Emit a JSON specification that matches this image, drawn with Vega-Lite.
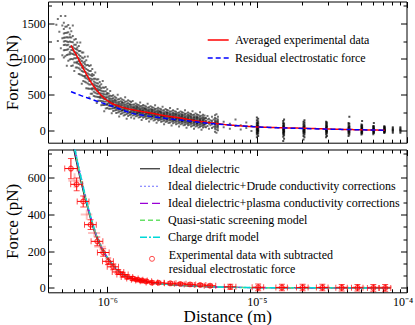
{
"$schema": "https://vega.github.io/schema/vega-lite/v6.json",
"padding": {"left": 2, "top": 0.5, "right": 0, "bottom": 0},
"spacing": 4,
"datasets": {
"cloud": [
{"x":4.571e-7,"y":[1480]},{"x":4.677e-7,"y":[1250,1560]},{"x":4.786e-7,"y":[1380]},{"x":4.898e-7,"y":[1150,1600]},{"x":5.012e-7,"y":[1050,1290,1470]},
{"x":5.129e-7,"y":[1020,1120,1195,1245,1295,1358,1420,1508]},
{"x":5.248e-7,"y":[1037,1125,1200,1250,1300,1363,1450,1600]},
{"x":5.37e-7,"y":[905,1055,1130,1192,1243,1305,1368,1455]},
{"x":5.495e-7,"y":[975,1062,1137,1200,1238,1300,1375,1475]},
{"x":5.623e-7,"y":[992,1067,1092,1167,1243,1305,1343,1430]},
{"x":5.754e-7,"y":[900,1000,1075,1125,1175,1238,1300,1388]},
{"x":5.888e-7,"y":[907,995,1070,1120,1170,1233,1320,1470]},
{"x":6.026e-7,"y":[830,950,1010,1060,1100,1150,1200,1270]},
{"x":6.166e-7,"y":[880,950,1010,1060,1090,1140,1200,1280]},
{"x":6.31e-7,"y":[880,940,960,1020,1080,1130,1160,1230]},
{"x":6.457e-7,"y":[790,870,930,970,1010,1060,1110,1180]},
{"x":6.607e-7,"y":[780,850,910,950,990,1040,1110,1230]},
{"x":6.761e-7,"y":[650,770,830,880,920,970,1020,1090]},
{"x":6.918e-7,"y":[690,760,820,870,900,950,1010,1090]},
{"x":7.079e-7,"y":[680,740,760,820,880,930,960,1030]},
{"x":7.244e-7,"y":[590,670,730,770,810,860,910,980]},
{"x":7.413e-7,"y":[585,655,715,755,795,845,915,1035]},
{"x":7.586e-7,"y":[460,580,640,690,730,780,830,900]},
{"x":7.762e-7,"y":[510,580,640,690,720,770,830,910]},
{"x":7.943e-7,"y":[510,570,590,650,710,760,790,860]},
{"x":8.128e-7,"y":[480,540,585,615,645,683,720,773]},
{"x":8.318e-7,"y":[472,525,570,600,630,668,720,810]},
{"x":8.511e-7,"y":[380,470,515,552,583,620,658,710]},
{"x":8.71e-7,"y":[415,467,512,550,573,610,655,715]},
{"x":8.913e-7,"y":[412,457,472,517,563,600,623,675]},
{"x":9.12e-7,"y":[350,410,455,485,515,553,590,643]},
{"x":9.333e-7,"y":[352,405,450,480,510,548,600,690]},
{"x":9.55e-7,"y":[265,355,400,437,468,505,543,595]},
{"x":9.772e-7,"y":[305,357,402,440,463,500,545,605]},
{"x":1e-6,"y":[312,357,372,417,463,500,523,575]},
{"x":1.023e-6,"y":[300,344,377,399,421,449,476,515]},
{"x":1.047e-6,"y":[301,340,373,395,417,445,483,549]},
{"x":1.072e-6,"y":[239,305,338,365,388,415,443,481]},
{"x":1.096e-6,"y":[271,309,342,370,387,414,447,491]},
{"x":1.122e-6,"y":[277,310,321,354,388,415,432,470]},
{"x":1.148e-6,"y":[240,284,317,339,361,389,416,455]},
{"x":1.175e-6,"y":[248,287,320,342,364,392,430,496]},
{"x":1.202e-6,"y":[192,258,291,318,341,368,396,434]},
{"x":1.23e-6,"y":[229,267,300,328,345,372,405,449]},
{"x":1.259e-6,"y":[239,272,283,316,350,377,394,432]},
{"x":1.288e-6,"y":[206,250,283,305,327,355,382,421]},
{"x":1.318e-6,"y":[216,255,288,310,332,360,398,464]},
{"x":1.349e-6,"y":[162,228,261,288,311,338,366,404]},
{"x":1.38e-6,"y":[201,239,272,300,317,344,377,421]},
{"x":1.413e-6,"y":[212,245,256,289,323,350,367,405]},
{"x":1.445e-6,"y":[180,224,257,279,301,329,356,395]},
{"x":1.479e-6,"y":[208,240,267,285,303,326,357,411]},
{"x":1.514e-6,"y":[163,217,244,266,285,307,330,361]},
{"x":1.549e-6,"y":[195,226,253,276,290,312,339,375]},
{"x":1.585e-6,"y":[204,231,240,267,295,317,331,362]},
{"x":1.622e-6,"y":[178,214,241,259,277,300,322,354]},
{"x":1.66e-6,"y":[187,219,246,264,282,305,336,390]},
{"x":1.698e-6,"y":[143,197,224,246,265,287,310,341]},
{"x":1.738e-6,"y":[175,206,233,256,270,292,319,355]},
{"x":1.778e-6,"y":[184,211,220,247,275,297,311,342]},
{"x":1.82e-6,"y":[158,194,221,239,257,280,302,334]},
{"x":1.862e-6,"y":[167,199,226,244,262,285,316,370]},
{"x":1.905e-6,"y":[123,177,204,226,245,267,290,321]},
{"x":1.95e-6,"y":[155,186,213,236,250,272,299,335]},
{"x":1.995e-6,"y":[164,191,200,227,255,277,291,322]},
{"x":2.042e-6,"y":[138,174,201,219,237,260,282,314]},
{"x":2.089e-6,"y":[147,179,206,224,242,265,296,350]},
{"x":2.138e-6,"y":[103,157,184,206,225,247,270,301]},
{"x":2.188e-6,"y":[135,166,193,216,230,252,279,315]},
{"x":2.239e-6,"y":[144,171,180,207,235,257,271,302]},
{"x":2.291e-6,"y":[118,154,181,199,217,240,262,294]},
{"x":2.344e-6,"y":[127,159,186,204,222,245,276,330]},
{"x":2.399e-6,"y":[83,137,164,186,205,227,250,281]},
{"x":2.455e-6,"y":[116,147,174,197,211,233,260,296]},
{"x":2.512e-6,"y":[126,153,162,189,217,239,253,284]},
{"x":2.57e-6,"y":[100,136,163,181,199,222,244,276]},
{"x":2.63e-6,"y":[110,142,169,187,205,228,259,313]},
{"x":2.692e-6,"y":[67,121,148,170,189,211,234,265]},
{"x":2.754e-6,"y":[99,130,157,180,194,216,243,279]},
{"x":2.818e-6,"y":[109,136,145,172,200,222,236,267]},
{"x":2.884e-6,"y":[84,120,147,165,183,206,228,260]},
{"x":2.951e-6,"y":[94,126,153,171,189,212,243,297]},
{"x":3.02e-6,"y":[51,105,132,154,173,195,218,249]},
{"x":3.09e-6,"y":[84,115,142,165,179,201,228,264]},
{"x":3.162e-6,"y":[94,121,130,157,185,207,221,252]},
{"x":3.236e-6,"y":[68,104,131,149,167,190,212,244]},
{"x":3.311e-6,"y":[78,110,137,155,173,196,227,281]},
{"x":3.388e-6,"y":[35,89,116,138,157,179,202,233]},
{"x":3.467e-6,"y":[68,99,126,149,163,185,212,248]},
{"x":3.548e-6,"y":[78,105,114,141,169,191,205,236]},
{"x":3.631e-6,"y":[53,89,116,134,152,175,197,229]},
{"x":3.715e-6,"y":[63,95,122,140,158,181,212,266]},
{"x":3.802e-6,"y":[20,74,101,123,142,164,187,218]},
{"x":3.89e-6,"y":[53,84,111,134,148,170,197,233]},
{"x":3.981e-6,"y":[63,90,99,126,154,176,190,221]},
{"x":4.074e-6,"y":[38,74,101,119,137,160,182,214]},
{"x":4.169e-6,"y":[48,80,107,125,143,166,197,251]},
{"x":4.266e-6,"y":[5,59,86,108,127,149,172,203]},
{"x":4.365e-6,"y":[38,69,96,119,133,155,182,218]},
{"x":4.467e-6,"y":[48,75,84,111,139,161,175,206]},
{"x":4.571e-6,"y":[40,95,130,170]},
{"x":4.677e-6,"y":[60,105,150,200]},
{"x":4.786e-6,"y":[20,90,120,160]},
{"x":4.898e-6,"y":[70,110,140]},
{"x":5.012e-6,"y":[30,85,130,190]},
{"x":5.129e-6,"y":[50,100,150]},
{"x":5.248e-6,"y":[-20,20,50,75,95,115,140,170,210]},
{"x":5.37e-6,"y":[-35,10,40,65,90,110,130,160,225]},
{"x":5.495e-6,"y":[0,35,60,85,105,125,150,190]},
{"x":6.0e-6,"y":[40,120]},{"x":6.6e-6,"y":[20,90]},{"x":7.2e-6,"y":[60,150]},{"x":7.8e-6,"y":[10,70]},{"x":8.5e-6,"y":[30,110]},{"x":9.2e-6,"y":[-10,60]}
],
"stripes": [
{"x":1.0e-5,"y":[-100,-60,-40,-20,-5,10,25,40,55,70,90,110,140,180]},
{"x":1.02e-5,"y":[-80,-50,-30,-10,0,15,30,45,60,80,100,125,160]},
{"x":1.5e-5,"y":[-150,-90,-60,-40,-20,-5,10,25,40,60,80,100,130]},
{"x":1.52e-5,"y":[-120,-70,-45,-25,-10,5,20,35,50,70,95,150]},
{"x":2.05e-5,"y":[-130,-80,-50,-30,-15,0,15,30,45,65,90,120]},
{"x":2.08e-5,"y":[-100,-60,-35,-20,-5,10,25,40,60,80,110,140]},
{"x":2.9e-5,"y":[-100,-60,-35,-15,0,15,30,50,70,95,120]},
{"x":2.94e-5,"y":[-80,-45,-25,-10,5,20,40,60,85,110]},
{"x":4.1e-5,"y":[-80,-50,-30,-15,0,15,30,50,75,100]},
{"x":4.15e-5,"y":[-60,-35,-20,-5,10,25,40,60,90,190]},
{"x":5.0e-5,"y":[-60,-40,-20,-5,10,25,40,60,80]},
{"x":5.05e-5,"y":[-45,-30,-10,0,15,30,50,70,130]},
{"x":6.0e-5,"y":[-55,-35,-15,0,10,25,40,60]},
{"x":6.05e-5,"y":[-40,-25,-10,5,20,35,55,100]},
{"x":7.1e-5,"y":[-40,-25,-10,0,10,25,40,55]},
{"x":7.15e-5,"y":[-30,-15,-5,5,15,30,50]},
{"x":8.1e-5,"y":[-35,-15,0,10,25,40]},
{"x":9.1e-5,"y":[-35,-15,0,10,25,40]}
],
"toplines": [
{"s":"Averaged experimental data","x":[5.73e-7,6.0e-7,6.27e-7,6.6e-7,6.95e-7,7.3e-7,7.7e-7,8.2e-7,8.76e-7,9.3e-7,9.95e-7,1.08e-6,1.19e-6,1.35e-6,1.54e-6,1.75e-6,1.99e-6,2.4e-6,3.0e-6,3.6e-6,4.29e-6,5.3e-6,6.48e-6,8.2e-6,1.03e-5,1.45e-5,2.0e-5,2.6e-5,3.33e-5,4.5e-5,5.8e-5,7.15e-5],
 "f":[1190,1110,1040,950,860,775,690,605,530,470,420,375,340,305,280,258,238,205,175,145,120,95,74,58,45,35,28,21,14,8,3,0]},
{"s":"Residual electrostatic force","x":[5.73e-7,6.5e-7,7.7e-7,9.0e-7,1.0e-6,1.2e-6,1.45e-6,1.8e-6,2.2e-6,2.8e-6,3.5e-6,4.3e-6,5.5e-6,7e-6,1.03e-5,1.5e-5,2e-5,3e-5,4.5e-5,7.15e-5],
 "f":[540,495,440,390,360,300,240,205,178,152,130,107,86,68,45,32,25,15,8,0]}
],
"models": [
{"m":"Ideal dielectric","x":[5.6e-7,5.87e-7,6.3e-7,6.75e-7,7.1e-7,7.58e-7,8.06e-7,8.71e-7,9.4e-7,1.04e-6,1.156e-6,1.25e-6,1.35e-6,1.5e-6,1.65e-6,2e-6,2.5e-6,3e-6,4e-6,5e-6,7e-6,1e-5,2e-5,4e-5,7.8e-5],
 "f":[930,795,665,560,487,400,325,252,196,142,99,77,61,48,40,28,19,14,9,6,3,1.5,0.5,0.2,0]},
{"m":"Ideal dielectric+Drude conductivity corrections","x":[5.6e-7,5.87e-7,6.3e-7,6.75e-7,7.1e-7,7.58e-7,8.06e-7,8.71e-7,9.4e-7,1.04e-6,1.156e-6,1.25e-6,1.35e-6,1.5e-6,1.65e-6,2e-6,2.5e-6,3e-6,4e-6,5e-6,7e-6,1e-5,2e-5,4e-5,7.8e-5],
 "f":[985,842,705,594,516,424,345,267,208,150,104,81,64,50,41,29,20,14.5,9.3,6.2,3.1,1.5,0.5,0.2,0]},
{"m":"Ideal dielectric+plasma conductivity corrections","x":[5.6e-7,5.87e-7,6.3e-7,6.75e-7,7.1e-7,7.58e-7,8.06e-7,8.71e-7,9.4e-7,1.04e-6,1.156e-6,1.25e-6,1.35e-6,1.5e-6,1.65e-6,2e-6,2.5e-6,3e-6,4e-6,5e-6,7e-6,1e-5,2e-5,4e-5,7.8e-5],
 "f":[960,820,685,577,502,412,335,260,202,146,102,79,62,49,40.5,28.5,19.5,14.2,9.1,6.1,3,1.5,0.5,0.2,0]},
{"m":"Quasi-static screening model","x":[5.6e-7,5.87e-7,6.3e-7,6.75e-7,7.1e-7,7.58e-7,8.06e-7,8.71e-7,9.4e-7,1.04e-6,1.156e-6,1.25e-6,1.35e-6,1.5e-6,1.65e-6,2e-6,2.5e-6,3e-6,4e-6,5e-6,7e-6,1e-5,2e-5,4e-5,7.8e-5],
 "f":[970,828,692,582,507,416,338,262,204,148,103,80,63,49.5,41,28.8,19.6,14.3,9.2,6.1,3,1.5,0.5,0.2,0]},
{"m":"Charge drift model","x":[5.6e-7,5.87e-7,6.3e-7,6.75e-7,7.1e-7,7.58e-7,8.06e-7,8.71e-7,9.4e-7,1.04e-6,1.156e-6,1.25e-6,1.35e-6,1.5e-6,1.65e-6,2e-6,2.5e-6,3e-6,4e-6,5e-6,7e-6,1e-5,2e-5,4e-5,7.8e-5],
 "f":[975,832,695,585,510,418,340,263,205,148,103,80,63,49.5,41,28.8,19.6,14.3,9.2,6.1,3,1.5,0.5,0.2,0]}
],
"pts": [
{"x":5.72e-7,"f":651,"xl":5.2e-7,"xh":6.3e-7,"fl":596,"fh":706},
{"x":6.25e-7,"f":565,"xl":5.7e-7,"xh":6.85e-7,"fl":530,"fh":600},
{"x":6.91e-7,"f":472,"xl":6.3e-7,"xh":7.55e-7,"fl":442,"fh":502},
{"x":7.74e-7,"f":345,"xl":7.05e-7,"xh":8.45e-7,"fl":318,"fh":372},
{"x":8.58e-7,"f":254,"xl":7.8e-7,"xh":9.35e-7,"fl":230,"fh":278},
{"x":9.4e-7,"f":193,"xl":8.6e-7,"xh":1.03e-6,"fl":172,"fh":214},
{"x":1.015e-6,"f":145,"xl":9.3e-7,"xh":1.1e-6,"fl":127,"fh":163},
{"x":1.096e-6,"f":115,"xl":1.0e-6,"xh":1.19e-6,"fl":99,"fh":131},
{"x":1.184e-6,"f":87,"xl":1.08e-6,"xh":1.29e-6,"fl":73,"fh":101},
{"x":1.268e-6,"f":73,"xl":1.16e-6,"xh":1.38e-6,"fl":60,"fh":86},
{"x":1.36e-6,"f":60,"xl":1.24e-6,"xh":1.48e-6,"fl":48,"fh":72},
{"x":1.48e-6,"f":51,"xl":1.35e-6,"xh":1.61e-6,"fl":40,"fh":62},
{"x":1.585e-6,"f":45,"xl":1.45e-6,"xh":1.73e-6,"fl":35,"fh":55},
{"x":1.7e-6,"f":40,"xl":1.55e-6,"xh":1.85e-6,"fl":30,"fh":50},
{"x":1.82e-6,"f":36,"xl":1.66e-6,"xh":1.98e-6,"fl":27,"fh":45},
{"x":1.99e-6,"f":29,"xl":1.82e-6,"xh":2.17e-6,"fl":21,"fh":37},
{"x":2.2e-6,"f":28,"xl":2.0e-6,"xh":2.4e-6,"fl":20,"fh":36},
{"x":2.64e-6,"f":25,"xl":2.41e-6,"xh":2.88e-6,"fl":17,"fh":33},
{"x":3.08e-6,"f":22,"xl":2.81e-6,"xh":3.36e-6,"fl":14,"fh":30},
{"x":3.58e-6,"f":19,"xl":3.27e-6,"xh":3.9e-6,"fl":11,"fh":27},
{"x":4.18e-6,"f":16,"xl":3.82e-6,"xh":4.56e-6,"fl":8,"fh":24},
{"x":4.87e-6,"f":12,"xl":4.45e-6,"xh":5.31e-6,"fl":4,"fh":20},
{"x":6.64e-6,"f":6,"xl":6.06e-6,"xh":7.24e-6,"fl":-8,"fh":20},
{"x":1.02e-5,"f":3,"xl":9.3e-6,"xh":1.11e-5,"fl":-15,"fh":21},
{"x":1.47e-5,"f":2,"xl":1.34e-5,"xh":1.6e-5,"fl":-16,"fh":20},
{"x":2.02e-5,"f":2,"xl":1.84e-5,"xh":2.2e-5,"fl":-16,"fh":20},
{"x":2.74e-5,"f":2,"xl":2.5e-5,"xh":2.99e-5,"fl":-16,"fh":20},
{"x":3.69e-5,"f":1,"xl":3.37e-5,"xh":4.02e-5,"fl":-17,"fh":19},
{"x":4.7e-5,"f":1,"xl":4.29e-5,"xh":5.12e-5,"fl":-17,"fh":19},
{"x":6.0e-5,"f":0,"xl":5.48e-5,"xh":6.54e-5,"fl":-18,"fh":18},
{"x":7.2e-5,"f":0,"xl":6.57e-5,"xh":7.85e-5,"fl":-18,"fh":18}
],
"pts2": [
{"x":6.05e-7,"f":585,"xl":5.5e-7,"xh":6.6e-7,"fl":545,"fh":625},
{"x":7.3e-7,"f":400,"xl":6.65e-7,"xh":7.95e-7,"fl":372,"fh":428},
{"x":8.2e-7,"f":300,"xl":7.45e-7,"xh":8.95e-7,"fl":276,"fh":324},
{"x":9.0e-7,"f":225,"xl":8.2e-7,"xh":9.8e-7,"fl":204,"fh":246},
{"x":1.06e-6,"f":128,"xl":9.7e-7,"xh":1.15e-6,"fl":112,"fh":144},
{"x":1.22e-6,"f":80,"xl":1.11e-6,"xh":1.33e-6,"fl":67,"fh":93},
{"x":1.42e-6,"f":56,"xl":1.3e-6,"xh":1.55e-6,"fl":44,"fh":68},
{"x":1.65e-6,"f":43,"xl":1.5e-6,"xh":1.8e-6,"fl":33,"fh":53},
{"x":1.9e-6,"f":33,"xl":1.73e-6,"xh":2.07e-6,"fl":24,"fh":42},
{"x":2.4e-6,"f":27,"xl":2.19e-6,"xh":2.62e-6,"fl":19,"fh":35},
{"x":2.85e-6,"f":24,"xl":2.6e-6,"xh":3.1e-6,"fl":16,"fh":32},
{"x":3.3e-6,"f":21,"xl":3.0e-6,"xh":3.6e-6,"fl":13,"fh":29},
{"x":4.5e-6,"f":14,"xl":4.1e-6,"xh":4.9e-6,"fl":6,"fh":22},
{"x":1.05e-5,"f":4,"xl":9.6e-6,"xh":1.15e-5,"fl":-12,"fh":20},
{"x":1.5e-5,"f":4,"xl":1.37e-5,"xh":1.64e-5,"fl":-12,"fh":20},
{"x":2.08e-5,"f":4,"xl":1.9e-5,"xh":2.27e-5,"fl":-12,"fh":20},
{"x":2.8e-5,"f":4,"xl":2.56e-5,"xh":3.06e-5,"fl":-12,"fh":20},
{"x":3.75e-5,"f":4,"xl":3.42e-5,"xh":4.1e-5,"fl":-12,"fh":20},
{"x":4.8e-5,"f":4,"xl":4.38e-5,"xh":5.25e-5,"fl":-12,"fh":20},
{"x":6.1e-5,"f":4,"xl":5.57e-5,"xh":6.67e-5,"fl":-12,"fh":20},
{"x":7.3e-5,"f":4,"xl":6.66e-5,"xh":7.98e-5,"fl":-12,"fh":20}
]
},
"vconcat": [
{
"width": 358.5, "height": 141.2,
"resolve": {"axis": {"x": "independent", "y": "independent"}},
"layer": [
{"data": {"name": "cloud"}, "transform": [{"flatten": ["y"]}],
 "mark": {"type": "point", "shape": "square", "filled": true, "size": 4, "color": "#000000", "opacity": 0.55, "strokeWidth": 0, "clip": true},
 "encoding": {
  "x": {"field": "x", "type": "quantitative", "scale": {"type": "log", "domain": [4.02e-7, 1e-4], "nice": false},
        "axis": {"orient": "bottom", "values": [1e-6, 1e-5, 1e-4], "labels": false, "tickSize": -6, "title": null}},
  "y": {"field": "y", "type": "quantitative", "scale": {"domain": [-175, 1805], "nice": false, "zero": false},
        "axis": {"orient": "left", "values": [0, 500, 1000, 1500], "format": "d", "tickSize": -6, "labelPadding": 8.7, "title": "Force (pN)", "titlePadding": 0, "minExtent": 27, "maxExtent": 27}}
 }},
{"data": {"name": "stripes"}, "transform": [{"flatten": ["y"]}],
 "mark": {"type": "point", "shape": "square", "filled": true, "size": 4, "color": "#000000", "opacity": 0.7, "strokeWidth": 0, "clip": true},
 "encoding": {
  "x": {"field": "x", "type": "quantitative", "scale": {"type": "log", "domain": [4.02e-7, 1e-4], "nice": false},
        "axis": {"orient": "bottom", "values": [5e-7,6e-7,7e-7,8e-7,9e-7,2e-6,3e-6,4e-6,5e-6,6e-6,7e-6,8e-6,9e-6,2e-5,3e-5,4e-5,5e-5,6e-5,7e-5,8e-5,9e-5], "labels": false, "tickSize": -3.5, "title": null}},
  "y": {"field": "y", "type": "quantitative", "scale": {"domain": [-175, 1805], "nice": false, "zero": false},
        "axis": {"orient": "left", "values": [250, 750, 1250, 1750], "labels": false, "tickSize": -3.5, "title": null}}
 }},
{"data": {"name": "toplines"}, "transform": [{"flatten": ["x", "f"]}, {"filter": "datum.s == 'Averaged experimental data'"}],
 "mark": {"type": "line", "strokeWidth": 1.5, "clip": true, "interpolate": "monotone"},
 "encoding": {
  "x": {"field": "x", "type": "quantitative", "scale": {"type": "log", "domain": [4.02e-7, 1e-4], "nice": false},
        "axis": {"orient": "top", "values": [1e-6, 1e-5, 1e-4], "labels": false, "tickSize": -6, "title": null}},
  "y": {"field": "f", "type": "quantitative", "scale": {"domain": [-175, 1805], "nice": false, "zero": false},
        "axis": {"orient": "right", "values": [0, 500, 1000, 1500], "labels": false, "tickSize": -6, "title": null}},
  "color": {"field": "s", "type": "nominal", "scale": {"domain": ["Averaged experimental data", "Residual electrostatic force"], "range": ["#ff0000", "#0000ff"]},
            "legend": {"orient": "none", "legendX": 158.7, "legendY": 27, "title": null, "symbolType": "stroke", "symbolSize": 441, "symbolStrokeWidth": 1.5, "labelFontSize": 12, "labelOffset": 5.3, "rowPadding": -6, "padding": 0}},
  "strokeDash": {"field": "s", "type": "nominal", "scale": {"domain": ["Averaged experimental data", "Residual electrostatic force"], "range": [[1, 0], [5, 3]]},
            "legend": {"orient": "none", "legendX": 158.7, "legendY": 27, "title": null, "symbolType": "stroke", "symbolSize": 441, "symbolStrokeWidth": 1.5, "labelFontSize": 12, "labelOffset": 5.3, "rowPadding": -6, "padding": 0}}
 }},
{"data": {"name": "toplines"}, "transform": [{"flatten": ["x", "f"]}, {"filter": "datum.s == 'Residual electrostatic force'"}],
 "mark": {"type": "line", "strokeWidth": 1.5, "clip": true, "interpolate": "monotone"},
 "encoding": {
  "x": {"field": "x", "type": "quantitative", "scale": {"type": "log", "domain": [4.02e-7, 1e-4], "nice": false},
        "axis": {"orient": "top", "values": [5e-7,6e-7,7e-7,8e-7,9e-7,2e-6,3e-6,4e-6,5e-6,6e-6,7e-6,8e-6,9e-6,2e-5,3e-5,4e-5,5e-5,6e-5,7e-5,8e-5,9e-5], "labels": false, "tickSize": -3.5, "title": null}},
  "y": {"field": "f", "type": "quantitative", "scale": {"domain": [-175, 1805], "nice": false, "zero": false},
        "axis": {"orient": "right", "values": [250, 750, 1250, 1750], "labels": false, "tickSize": -3.5, "title": null}},
  "color": {"field": "s", "type": "nominal", "scale": {"domain": ["Averaged experimental data", "Residual electrostatic force"], "range": ["#ff0000", "#0000ff"]},
            "legend": {"orient": "none", "legendX": 158.7, "legendY": 27, "title": null, "symbolType": "stroke", "symbolSize": 441, "symbolStrokeWidth": 1.5, "labelFontSize": 12, "labelOffset": 5.3, "rowPadding": -6, "padding": 0}},
  "strokeDash": {"field": "s", "type": "nominal", "scale": {"domain": ["Averaged experimental data", "Residual electrostatic force"], "range": [[1, 0], [5, 3]]},
            "legend": {"orient": "none", "legendX": 158.7, "legendY": 27, "title": null, "symbolType": "stroke", "symbolSize": 441, "symbolStrokeWidth": 1.5, "labelFontSize": 12, "labelOffset": 5.3, "rowPadding": -6, "padding": 0}}
 }}
]
},
{
"width": 358.5, "height": 142.8,
"resolve": {"axis": {"x": "independent", "y": "independent"}},
"layer": [
{"data": {"name": "models"}, "transform": [{"flatten": ["x", "f"]}],
 "mark": {"type": "line", "clip": true, "interpolate": "monotone"},
 "encoding": {
  "x": {"field": "x", "type": "quantitative", "scale": {"type": "log", "domain": [4.02e-7, 1e-4], "nice": false},
        "axis": {"orient": "top", "values": [1e-6, 1e-5, 1e-4], "labels": false, "tickSize": -6, "title": null}},
  "y": {"field": "f", "type": "quantitative", "scale": {"domain": [-24, 755], "nice": false, "zero": false},
        "axis": {"orient": "right", "values": [0, 200, 400, 600], "labels": false, "tickSize": -6, "title": null}},
  "color": {"field": "m", "type": "nominal",
            "scale": {"domain": ["Ideal dielectric", "Ideal dielectric+Drude conductivity corrections", "Ideal dielectric+plasma conductivity corrections", "Quasi-static screening model", "Charge drift model"], "range": ["#000000", "#6f6fff", "#9a00d6", "#66e066", "#00d8d8"]},
            "legend": {"orient": "none", "legendX": 91, "legendY": 8.8, "title": null, "symbolType": "stroke", "symbolSize": 400, "labelFontSize": 12, "labelOffset": 7, "rowPadding": -5.3, "padding": 0}},
  "strokeDash": {"field": "m", "type": "nominal",
            "scale": {"domain": ["Ideal dielectric", "Ideal dielectric+Drude conductivity corrections", "Ideal dielectric+plasma conductivity corrections", "Quasi-static screening model", "Charge drift model"], "range": [[1, 0], [2, 2], [8, 4], [5, 3], [7, 2, 2, 2]]},
            "legend": {"orient": "none", "legendX": 91, "legendY": 8.8, "title": null, "symbolType": "stroke", "symbolSize": 400, "labelFontSize": 12, "labelOffset": 7, "rowPadding": -5.3, "padding": 0}},
  "strokeWidth": {"field": "m", "type": "ordinal",
            "scale": {"domain": ["Ideal dielectric", "Ideal dielectric+Drude conductivity corrections", "Ideal dielectric+plasma conductivity corrections", "Quasi-static screening model", "Charge drift model"], "range": [1, 1.5, 1.5, 2, 1.5]},
            "legend": {"orient": "none", "legendX": 91, "legendY": 8.8, "title": null, "symbolType": "stroke", "symbolSize": 400, "labelFontSize": 12, "labelOffset": 7, "rowPadding": -5.3, "padding": 0}}
 }},
{"data": {"name": "pts2"},
 "mark": {"type": "rule", "color": "#ff3030", "opacity": 0.3, "strokeWidth": 2, "clip": true},
 "encoding": {
  "x": {"field": "xl", "type": "quantitative", "scale": {"type": "log", "domain": [4.02e-7, 1e-4], "nice": false},
        "axis": {"orient": "top", "values": [5e-7,6e-7,7e-7,8e-7,9e-7,2e-6,3e-6,4e-6,5e-6,6e-6,7e-6,8e-6,9e-6,2e-5,3e-5,4e-5,5e-5,6e-5,7e-5,8e-5,9e-5], "labels": false, "tickSize": -3.5, "title": null}},
  "x2": {"field": "xh"},
  "y": {"field": "f", "type": "quantitative", "scale": {"domain": [-24, 755], "nice": false, "zero": false},
        "axis": {"orient": "right", "values": [66.67, 133.33, 266.67, 333.33, 466.67, 533.33, 666.67, 733.33], "labels": false, "tickSize": -3.5, "title": null}}
 }},
{"data": {"name": "pts2"},
 "mark": {"type": "rule", "color": "#ff3030", "opacity": 0.3, "strokeWidth": 2, "clip": true},
 "encoding": {
  "x": {"field": "x", "type": "quantitative", "scale": {"type": "log", "domain": [4.02e-7, 1e-4], "nice": false}, "axis": null},
  "y": {"field": "fl", "type": "quantitative", "scale": {"domain": [-24, 755], "nice": false, "zero": false}, "axis": null},
  "y2": {"field": "fh"}
 }},
{"data": {"name": "pts"},
 "mark": {"type": "rule", "color": "#ff0000", "strokeWidth": 1, "clip": true},
 "encoding": {
  "x": {"field": "xl", "type": "quantitative", "scale": {"type": "log", "domain": [4.02e-7, 1e-4], "nice": false},
        "axis": {"orient": "bottom", "values": [5e-7,6e-7,7e-7,8e-7,9e-7,2e-6,3e-6,4e-6,5e-6,6e-6,7e-6,8e-6,9e-6,2e-5,3e-5,4e-5,5e-5,6e-5,7e-5,8e-5,9e-5], "labels": false, "tickSize": -3.5, "title": null}},
  "x2": {"field": "xh"},
  "y": {"field": "f", "type": "quantitative", "scale": {"domain": [-24, 755], "nice": false, "zero": false},
        "axis": {"orient": "left", "values": [66.67, 133.33, 266.67, 333.33, 466.67, 533.33, 666.67, 733.33], "labels": false, "tickSize": -3.5, "title": null}}
 }},
{"data": {"name": "pts"},
 "mark": {"type": "rule", "color": "#ff0000", "strokeWidth": 1, "clip": true},
 "encoding": {
  "x": {"field": "x", "type": "quantitative", "scale": {"type": "log", "domain": [4.02e-7, 1e-4], "nice": false}, "axis": null},
  "y": {"field": "fl", "type": "quantitative", "scale": {"domain": [-24, 755], "nice": false, "zero": false}, "axis": null},
  "y2": {"field": "fh"}
 }},
{"data": {"name": "pts"},
 "mark": {"type": "tick", "orient": "vertical", "size": 6, "thickness": 1, "color": "#ff0000", "clip": true},
 "encoding": {
  "x": {"field": "xl", "type": "quantitative", "scale": {"type": "log", "domain": [4.02e-7, 1e-4], "nice": false}, "axis": null},
  "y": {"field": "f", "type": "quantitative", "scale": {"domain": [-24, 755], "nice": false, "zero": false}, "axis": null}
 }},
{"data": {"name": "pts"},
 "mark": {"type": "tick", "orient": "vertical", "size": 6, "thickness": 1, "color": "#ff0000", "clip": true},
 "encoding": {
  "x": {"field": "xh", "type": "quantitative", "scale": {"type": "log", "domain": [4.02e-7, 1e-4], "nice": false}, "axis": null},
  "y": {"field": "f", "type": "quantitative", "scale": {"domain": [-24, 755], "nice": false, "zero": false}, "axis": null}
 }},
{"data": {"name": "pts"},
 "mark": {"type": "tick", "orient": "horizontal", "size": 6, "thickness": 1, "color": "#ff0000", "clip": true},
 "encoding": {
  "x": {"field": "x", "type": "quantitative", "scale": {"type": "log", "domain": [4.02e-7, 1e-4], "nice": false}, "axis": null},
  "y": {"field": "fl", "type": "quantitative", "scale": {"domain": [-24, 755], "nice": false, "zero": false}, "axis": null}
 }},
{"data": {"name": "pts"},
 "mark": {"type": "tick", "orient": "horizontal", "size": 6, "thickness": 1, "color": "#ff0000", "clip": true},
 "encoding": {
  "x": {"field": "x", "type": "quantitative", "scale": {"type": "log", "domain": [4.02e-7, 1e-4], "nice": false}, "axis": null},
  "y": {"field": "fh", "type": "quantitative", "scale": {"domain": [-24, 755], "nice": false, "zero": false}, "axis": null}
 }},
{"data": {"name": "pts"},
 "mark": {"type": "point", "filled": false, "size": 22, "strokeWidth": 1.2, "color": "#ff0000", "clip": true},
 "encoding": {
  "x": {"field": "x", "type": "quantitative", "scale": {"type": "log", "domain": [4.02e-7, 1e-4], "nice": false},
        "axis": {"orient": "bottom", "values": [1e-6, 1e-5, 1e-4], "tickSize": -6, "labelPadding": 10.5, "labelFlush": false, "labelOverlap": false, "labelBound": false,
                 "labelOffset": {"condition": {"test": "datum.value > 5e-5", "value": -4}, "value": 0},
                 "labelExpr": "datum.value < 3e-6 ? '10⁻⁶' : (datum.value < 3e-5 ? '10⁻⁵' : '10⁻⁴')", "title": "Distance (m)", "titlePadding": 0.5}},
  "y": {"field": "f", "type": "quantitative", "scale": {"domain": [-24, 755], "nice": false, "zero": false},
        "axis": {"orient": "left", "values": [0, 200, 400, 600], "format": "d", "tickSize": -6, "labelPadding": 8.7, "title": "Force (pN)", "titlePadding": 0, "minExtent": 27, "maxExtent": 27}},
  "shape": {"datum": "Experimental data with subtracted residual electrostatic force", "type": "nominal",
            "scale": {"domain": ["Experimental data with subtracted residual electrostatic force"], "range": ["circle"]},
            "legend": {"orient": "none", "legendX": 98, "legendY": 103.3, "title": null, "symbolSize": 25, "symbolStrokeColor": "#ff0000", "symbolFillColor": "transparent", "symbolStrokeWidth": 1, "labelFontSize": 12, "labelOffset": 10.7, "labelBaseline": "alphabetic", "padding": 0,
                       "labelExpr": "['Experimental data with subtracted', ' residual electrostatic force']"}}
 }}
]
}
],
"resolve": {"scale": {"color": "independent", "strokeDash": "independent", "shape": "independent", "strokeWidth": "independent"}, "legend": {"color": "independent", "strokeDash": "independent", "shape": "independent", "strokeWidth": "independent"}},
"config": {
 "font": "Liberation Serif",
 "view": {"stroke": "#000000", "strokeWidth": 1},
 "axis": {"domain": false, "grid": false, "tickColor": "#000000", "tickWidth": 1, "labelColor": "#000000", "labelFont": "Liberation Serif", "labelFontSize": 12,
          "titleFont": "Liberation Serif", "titleFontSize": 17, "titleFontWeight": "normal", "titleColor": "#000000"},
 "legend": {"labelFont": "Liberation Serif", "labelColor": "#000000", "labelFontSize": 12, "labelLimit": 400}
}
}
